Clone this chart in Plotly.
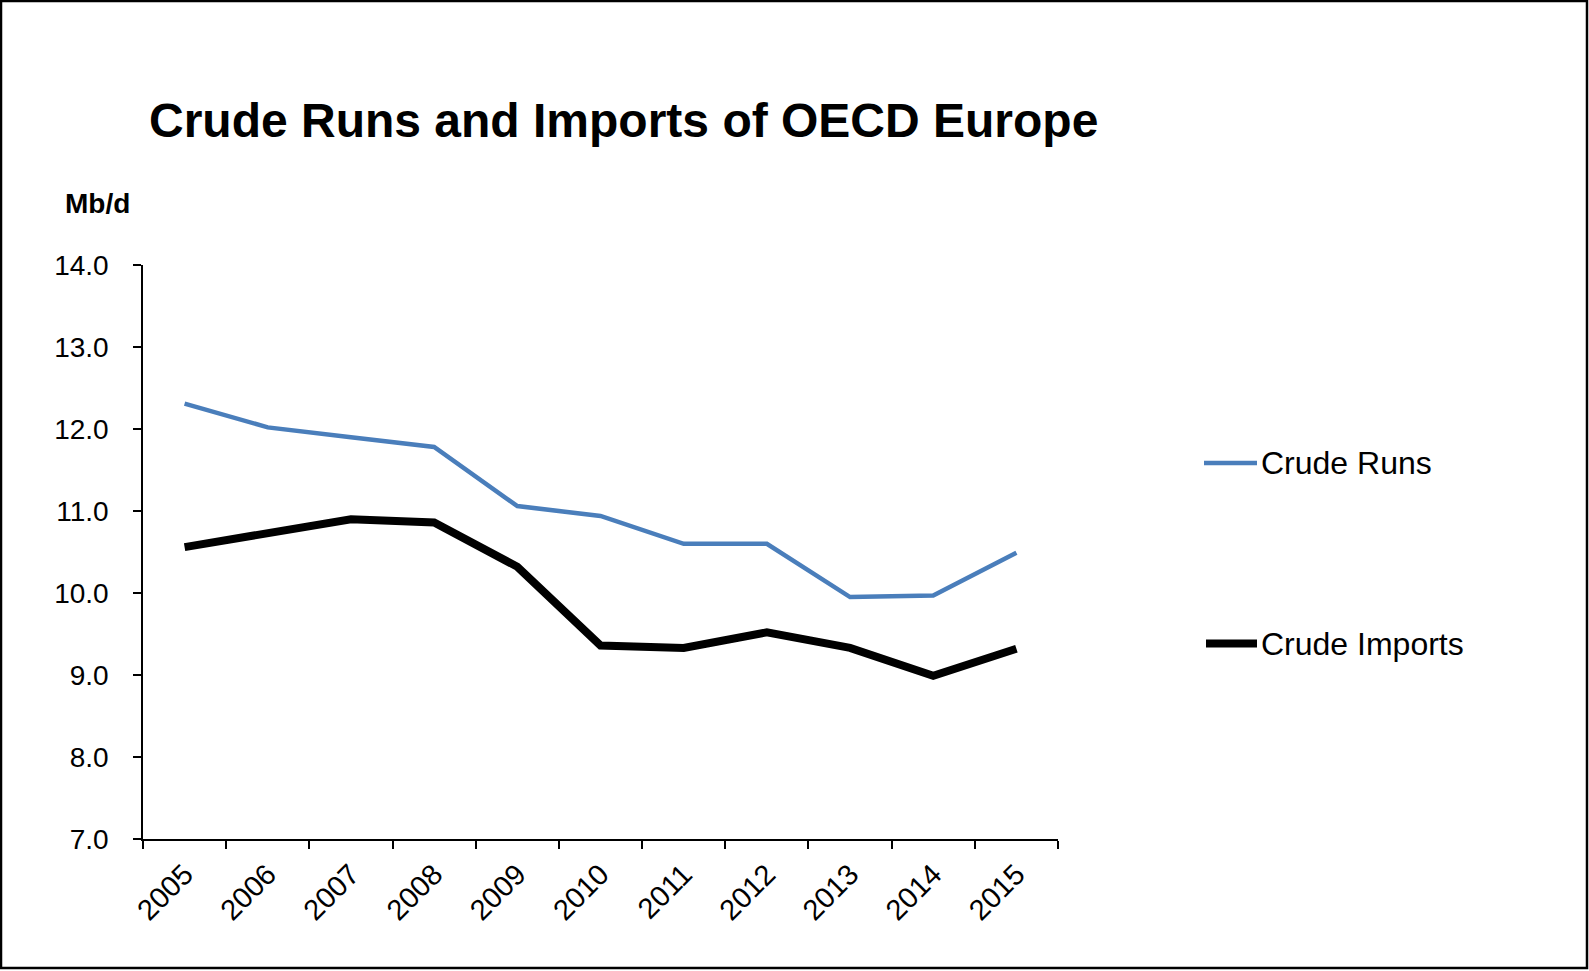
import plotly.graph_objects as go

years = ["2005", "2006", "2007", "2008", "2009", "2010", "2011", "2012", "2013", "2014", "2015"]
crude_runs = [12.31, 12.02, 11.90, 11.78, 11.06, 10.94, 10.60, 10.60, 9.95, 9.97, 10.49]
crude_imports = [10.56, 10.73, 10.90, 10.86, 10.32, 9.36, 9.33, 9.52, 9.33, 8.99, 9.32]
y_ticks = [7.0, 8.0, 9.0, 10.0, 11.0, 12.0, 13.0, 14.0]
series_names = ["Crude Runs", "Crude Imports"]
series_colors = ["#4A7EBB", "#000000"]

FONT = "Liberation Sans, Arial, sans-serif"
W, H = 1589, 971
ML, MR, MT, MB = 143, 531, 265, 132
PW = W - ML - MR
PH = H - MT - MB


def px(x):
    return (x - ML) / PW


def py(y):
    return (H - MB - y) / PH


fig = go.Figure()
fig.add_trace(go.Scatter(x=years, y=crude_runs, mode="lines", name=series_names[0],
                         line=dict(color=series_colors[0], width=4.5), showlegend=False))
fig.add_trace(go.Scatter(x=years, y=crude_imports, mode="lines", name=series_names[1],
                         line=dict(color=series_colors[1], width=8), showlegend=False))

shapes = [
    # outer border
    dict(type="rect", xref="paper", yref="paper", x0=px(1), x1=px(1587), y0=py(968), y1=py(1),
         line=dict(color="black", width=2.5), fillcolor="rgba(0,0,0,0)", layer="below"),
    # manual legend samples
    dict(type="line", xref="paper", yref="paper", x0=px(1204), x1=px(1257), y0=py(463), y1=py(463),
         line=dict(color=series_colors[0], width=4.5)),
    dict(type="line", xref="paper", yref="paper", x0=px(1206), x1=px(1257), y0=py(643.5), y1=py(643.5),
         line=dict(color=series_colors[1], width=8)),
]

annotations = [
    dict(text="<b>Mb/d</b>", xref="paper", yref="paper", x=px(63), y=py(203), xanchor="left",
         yanchor="middle", showarrow=False, font=dict(family=FONT, size=28, color="black")),
    dict(text=series_names[0], xref="paper", yref="paper", x=px(1259), y=py(463), xanchor="left",
         yanchor="middle", showarrow=False, font=dict(family=FONT, size=32, color="black")),
    dict(text=series_names[1], xref="paper", yref="paper", x=px(1259), y=py(643.5), xanchor="left",
         yanchor="middle", showarrow=False, font=dict(family=FONT, size=32, color="black")),
]

fig.update_layout(
    width=W, height=H,
    margin=dict(l=ML, r=MR, t=MT, b=MB, pad=0),
    paper_bgcolor="white", plot_bgcolor="white",
    font=dict(family=FONT, color="black"),
    title=dict(text="<b>Crude Runs and Imports of OECD Europe</b>", xref="container", yref="container",
               x=149 / W, xanchor="left", y=1 - 120 / H, yanchor="middle",
               font=dict(family=FONT, size=48, color="black")),
    shapes=shapes,
    annotations=annotations,
    showlegend=False,
)

fig.update_xaxes(
    type="category", range=[-0.5, 10.5], showgrid=False, zeroline=False,
    showline=True, linecolor="black", linewidth=1.5,
    ticks="outside", tickson="boundaries", ticklen=8, tickwidth=1.5, tickcolor="black",
    tickangle=-45, ticklabelstandoff=5,
    tickfont=dict(family=FONT, size=29, color="black"),
)
fig.update_yaxes(
    range=[7, 14], tickvals=y_ticks, ticktext=[f"{v:.1f}" for v in y_ticks],
    showgrid=False, zeroline=False,
    showline=True, linecolor="black", linewidth=1.5,
    ticks="outside", ticklen=8, tickwidth=1.5, tickcolor="black",
    ticklabelstandoff=19,
    tickfont=dict(family=FONT, size=28, color="black"),
)

fig.write_html("out.html")
